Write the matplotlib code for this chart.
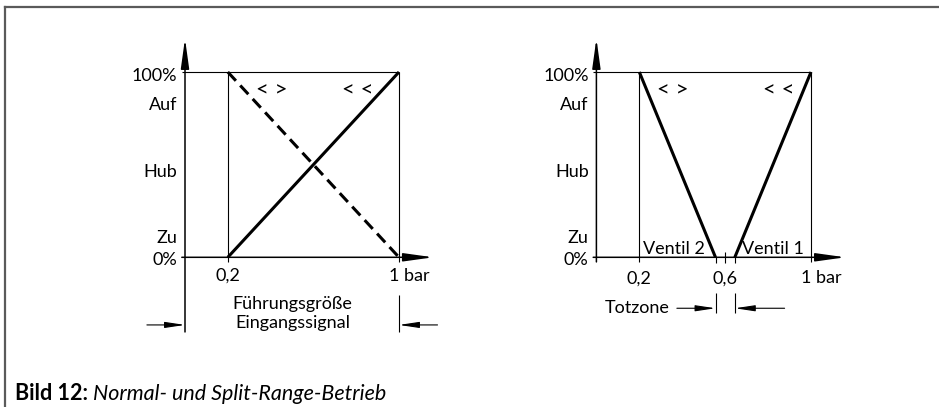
import matplotlib
matplotlib.use("Agg")
import matplotlib.pyplot as plt
from matplotlib.lines import Line2D

plt.rcParams['font.family'] = ['Lato', 'DejaVu Sans']

W, H = 939, 407

# left chart: normal operation (signal in bar, travel in %)
norm_x = [0.2, 1.0]
norm_rising = [0, 100]      # "< <"
norm_falling = [100, 0]     # "< >"

# right chart: split range
v2_x = [0.2, 0.555]
v2_y = [100, 0]
v1_x = [0.645, 1.0]
v1_y = [0, 100]
dead_zone = [0.555, 0.645]

y_labels = ['100%', 'Auf', 'Hub', 'Zu', '0%']
y_label_pos = [95.3, 79.5, 43.5, 7.5, -4.2]

FS = 13
SYM_FS = 16
CAP_FS = 15.5
THIN = 0.8
AX_LW = 1.1
THICK = 2.2

fig = plt.figure(figsize=(W / 100, H / 100), dpi=100)

# frame (top and left edge only)
fig.add_artist(Line2D([4.5 / W, 1], [1 - 6.5 / H, 1 - 6.5 / H], color='#5a5a5a', lw=1.6))
fig.add_artist(Line2D([4.5 / W, 4.5 / W], [0, 1 - 6.5 / H], color='#5a5a5a', lw=1.6))


def make_ax(x0, x1):
    ax = fig.add_axes([x0 / W, (H - 257.3) / H, (x1 - x0) / W, 185.3 / H])
    ax.set_xlim(0, 1)
    ax.set_ylim(0, 100)
    ax.axis('off')
    return ax


def seg(ax, xs, ys, lw=THIN, **kw):
    ax.plot(xs, ys, color='black', lw=lw, clip_on=False, solid_capstyle='butt', **kw)


def arrow(ax, start, end, hl=1.8, hw=0.25, lw=AX_LW):
    ax.annotate('', xy=end, xytext=start, annotation_clip=False,
                arrowprops=dict(arrowstyle=f'-|>,head_length={hl},head_width={hw}',
                                color='black', lw=lw, shrinkA=0, shrinkB=0,
                                mutation_scale=10))


def frame_common(ax, y_bottom):
    arrow(ax, (0, y_bottom), (0, 118))
    arrow(ax, (-0.015, 0), (1.16, 0))
    seg(ax, [-0.015, 1], [100, 100])
    seg(ax, [0.2, 0.2], [-2.5, 100])
    seg(ax, [1, 1], [-2.5, 100])
    for lab, yp in zip(y_labels, y_label_pos):
        ax.text(-0.036, yp, lab, ha='right', va='baseline', fontsize=FS)


# ---- left chart
ax1 = make_ax(185.0, 399.0)
frame_common(ax1, -40.3)
seg(ax1, [1, 1], [-20.3, -40.3])
seg(ax1, norm_x, norm_rising, lw=THICK)
seg(ax1, norm_x, norm_falling, lw=THICK, ls=(0, (3.9, 2.1)))
ax1.text(0.2, -12.8, '0,2', ha='center', va='baseline', fontsize=FS)
ax1.text(0.955, -12.8, '1 bar', ha='left', va='baseline', fontsize=FS)
ax1.text(0.502, -27.8, 'Führungsgröße', ha='center', va='baseline', fontsize=FS)
ax1.text(0.502, -38.3, 'Eingangssignal', ha='center', va='baseline', fontsize=FS)
ax1.text(0.405, 90.5, '< >', ha='center', va='center', fontsize=SYM_FS)
ax1.text(0.808, 90.5, '< <', ha='center', va='center', fontsize=SYM_FS)
arrow(ax1, (-0.178, -36.5), (0, -36.5), hl=1.2, hw=0.18, lw=THIN)
arrow(ax1, (1.18, -36.5), (1, -36.5), hl=1.2, hw=0.18, lw=THIN)

# ---- right chart
ax2 = make_ax(596.4, 811.0)
frame_common(ax2, -2.5)
seg(ax2, v2_x, v2_y, lw=THICK)
seg(ax2, v1_x, v1_y, lw=THICK)
seg(ax2, [0.6, 0.6], [-3, 3])
for xd in dead_zone:
    seg(ax2, [xd, xd], [0, -3])
    seg(ax2, [xd, xd], [-19.3, -30])
ax2.text(0.2, -14, '0,2', ha='center', va='baseline', fontsize=FS)
ax2.text(0.6, -14, '0,6', ha='center', va='baseline', fontsize=FS)
ax2.text(0.953, -14, '1 bar', ha='left', va='baseline', fontsize=FS)
ax2.text(0.217, 1.8, 'Ventil 2', ha='left', va='baseline', fontsize=FS)
ax2.text(0.968, 1.8, 'Ventil 1', ha='right', va='baseline', fontsize=FS)
ax2.text(0.343, -27.5, 'Totzone', ha='right', va='center', fontsize=FS)
ax2.text(0.356, 90.5, '< >', ha='center', va='center', fontsize=SYM_FS)
ax2.text(0.848, 90.5, '< <', ha='center', va='center', fontsize=SYM_FS)
arrow(ax2, (0.375, -27.5), (dead_zone[0], -27.5), hl=1.2, hw=0.18, lw=THIN)
arrow(ax2, (0.877, -27.5), (dead_zone[1], -27.5), hl=1.2, hw=0.18, lw=THIN)

# ---- caption
r = fig.canvas.get_renderer()
t = fig.text(15 / W, 7 / H, 'Bild 12:', fontsize=CAP_FS, fontweight='bold', ha='left', va='baseline')
bb = t.get_window_extent(renderer=r)
fig.text((bb.x1 + 5) / W, 7 / H, 'Normal- und Split-Range-Betrieb', fontsize=CAP_FS,
         style='italic', ha='left', va='baseline')

fig.savefig('out.png', dpi=100)
